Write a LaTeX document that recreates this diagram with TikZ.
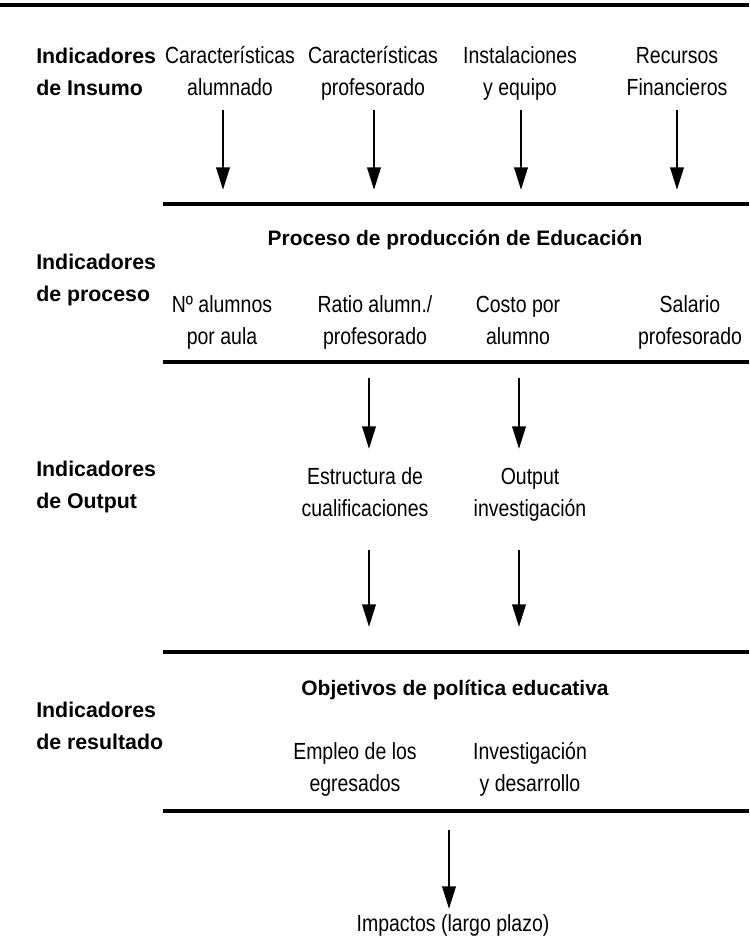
\documentclass[tikz,border=0pt]{standalone}
\usepackage{fontspec}
\setmainfont{Liberation Sans}
\newfontfamily\narrowfont{Liberation Sans}[FakeStretch=0.835]
\usetikzlibrary{arrows.meta}
\begin{document}
\begin{tikzpicture}[x=0.75pt,y=-0.75pt,
 lbl/.style={font=\fontsize{16}{24}\selectfont\bfseries, align=left, anchor=west, inner sep=0},
 item/.style={font=\narrowfont\fontsize{17.5}{24}\selectfont, align=center, inner sep=0},
 head/.style={font=\fontsize{15.7}{24}\selectfont\bfseries, inner sep=0, anchor=base},
 rule/.style={line width=2.6pt},
 toprule/.style={line width=3.6pt},
 arr/.style={line width=2pt, -{Triangle[length=17pt,width=10pt]}}]
\useasboundingbox (0,0) rectangle (749,948);
% rules
\coordinate (t0) at (0,5); \coordinate (t1) at (749,5);
\draw[toprule] (t0) -- (t1);
\coordinate (a0) at (163,204); \coordinate (a1) at (749,204);
\coordinate (b0) at (163,362); \coordinate (b1) at (749,362);
\coordinate (c0) at (163,652); \coordinate (c1) at (749,652);
\coordinate (d0) at (163,811); \coordinate (d1) at (749,811);
\draw[rule] (a0) -- (a1);
\draw[rule] (b0) -- (b1);
\draw[rule] (c0) -- (c1);
\draw[rule] (d0) -- (d1);
% left labels
\node[lbl] (L1) at (36,73.1) {\strut Indicadores\\\strut de Insumo};
\node[lbl] (L2) at (36,279) {\strut Indicadores\\\strut de proceso};
\node[lbl] (L3) at (36,486.1) {\strut Indicadores\\\strut de Output};
\node[lbl] (L4) at (36,727.5) {\strut Indicadores\\\strut de resultado};
% input row
\node[item] (i1) at (230,73.1) {\strut Características\\\strut alumnado};
\node[item] (i2) at (373,73.1) {\strut Características\\\strut profesorado};
\node[item] (i3) at (520,73.1) {\strut Instalaciones\\\strut y equipo};
\node[item] (i4) at (677,73.1) {\strut Recursos\\\strut Financieros};
\foreach \n/\x in {1/223,2/374,3/521,4/677}{
  \coordinate (is\n) at (\x,110); \coordinate (ie\n) at (\x,190);
  \draw[arr] (is\n) -- (ie\n);
}
% process
\node[head] (h1) at (455,246) {Proceso de producción de Educación};
\node[item] (p1) at (222,322) {\strut Nº alumnos\\\strut por aula};
\node[item] (p2) at (375,322) {\strut Ratio alumn./\\\strut profesorado};
\node[item] (p3) at (518,322) {\strut Costo por\\\strut alumno};
\node[item] (p4) at (690,322) {\strut Salario\\\strut profesorado};
\foreach \n/\x in {1/369,2/519}{
  \coordinate (ps\n) at (\x,378); \coordinate (pe\n) at (\x,449);
  \draw[arr] (ps\n) -- (pe\n);
}
% output
\node[item] (o1) at (365,494.5) {\strut Estructura de\\\strut cualificaciones};
\node[item] (o2) at (530,494.5) {\strut Output\\\strut investigación};
\foreach \n/\x in {1/369,2/519}{
  \coordinate (os\n) at (\x,550); \coordinate (oe\n) at (\x,627);
  \draw[arr] (os\n) -- (oe\n);
}
% results
\node[head] (h2) at (455,695) {Objetivos de política educativa};
\node[item] (r1) at (355,769.5) {\strut Empleo de los\\\strut egresados};
\node[item] (r2) at (530,769.5) {\strut Investigación\\\strut y desarrollo};
\coordinate (ms) at (449,830); \coordinate (me) at (449,909);
\draw[arr] (ms) -- (me);
\node[item, anchor=base] (imp) at (453,931) {Impactos (largo plazo)};
\end{tikzpicture}
\end{document}
